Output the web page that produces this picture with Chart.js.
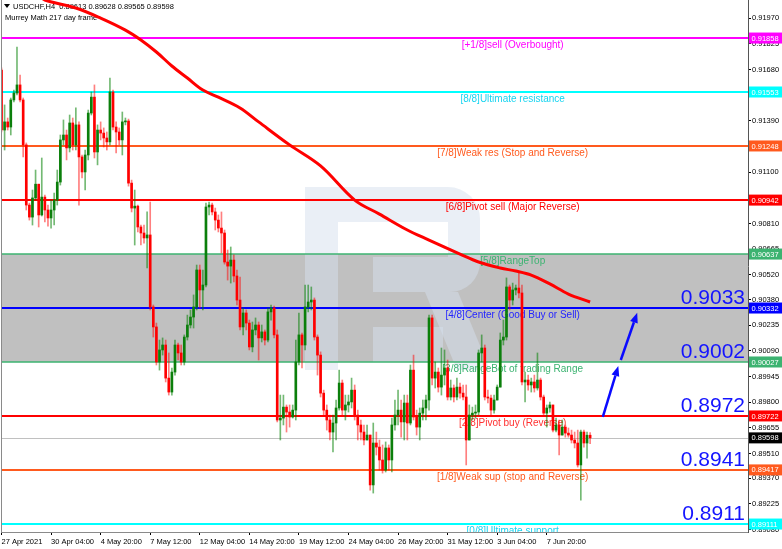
<!DOCTYPE html>
<html>
<head>
<meta charset="utf-8">
<script src="https://cdn.jsdelivr.net/npm/chart.js@4.4.0/dist/chart.umd.min.js"></script>
<style>
  html, body { margin: 0; padding: 0; background: #fff; }
  #chart { display: block; }
</style>
</head>
<body>
<canvas id="chart" width="782" height="549"></canvas>
<script>
// USDCHF H4 candles (bar index = position on the time axis)
const opens = [
  0.91677,0.91338,0.91384,0.91355,0.91508,0.91547,0.91593,0.91508,0.91254,0.90914,
  0.90846,0.90954,0.91032,0.90858,0.90959,0.90886,0.90841,0.90886,0.90942,0.91044,
  0.91282,0.91310,0.91237,0.91378,0.91254,0.91367,0.91186,0.91101,0.91197,0.91434,
  0.91524,0.91214,0.91338,0.91321,0.91293,0.91271,0.91553,0.91355,0.91327,0.91282,
  0.91384,0.91389,0.91038,0.90897,0.90908,0.90790,0.90756,0.90728,0.90745,0.90338,
  0.90225,0.90027,0.90095,0.90123,0.89936,0.89857,0.89970,0.90123,0.90078,0.90027,
  0.90168,0.90236,0.90281,0.90338,0.90547,0.90434,0.90462,0.90903,0.90914,0.90875,
  0.90829,0.90784,0.90756,0.90592,0.90569,0.90603,0.90513,0.90377,0.90225,0.90304,
  0.90247,0.90112,0.90208,0.90236,0.90163,0.90197,0.90151,0.90310,0.90332,0.90180,
  0.89699,0.89710,0.89772,0.89744,0.89716,0.89755,0.90027,0.90180,0.90123,0.90338,
  0.90366,0.90377,0.90168,0.90066,0.89851,0.89755,0.89699,0.89631,0.89682,0.89767,
  0.89908,0.89755,0.89784,0.89801,0.89868,0.89727,0.89671,0.89631,0.89586,0.89614,
  0.89332,0.89569,0.89546,0.89473,0.89416,0.89541,0.89473,0.89671,0.89727,0.89755,
  0.89688,0.89795,0.89682,0.89981,0.89716,0.89659,0.89738,0.89767,0.89812,0.90276,
  0.89936,0.89970,0.89885,0.89953,0.89993,0.89829,0.89880,0.89829,0.89885,0.89851,
  0.89829,0.89586,0.89727,0.89738,0.89744,0.90078,0.90106,0.89829,0.89823,0.89755,
  0.89812,0.89885,0.90151,0.90168,0.90451,0.90377,0.90434,0.90445,0.90417,0.89914,
  0.89925,0.89897,0.89914,0.89880,0.89925,0.89829,0.89738,0.89767,0.89784,0.89642,
  0.89671,0.89614,0.89659,0.89625,0.89614,0.89586,0.89569,0.89445,0.89631,0.89569,
  0.89613
];
const highs = [
  0.91689,0.91480,0.91406,0.91519,0.91564,0.91807,0.91649,0.91519,0.91265,0.90925,
  0.90999,0.91112,0.91032,0.91180,0.90971,0.90914,0.90942,0.90982,0.91112,0.91310,
  0.91395,0.91338,0.91423,0.91406,0.91463,0.91384,0.91197,0.91225,0.91451,0.91553,
  0.91593,0.91367,0.91384,0.91350,0.91327,0.91632,0.91564,0.91384,0.91350,0.91440,
  0.91406,0.91400,0.91055,0.90999,0.90914,0.90801,0.90801,0.90875,0.90931,0.90349,
  0.90247,0.90151,0.90163,0.90151,0.90078,0.89993,0.90151,0.90134,0.90123,0.90180,
  0.90292,0.90321,0.90406,0.90575,0.90575,0.90547,0.90925,0.90931,0.90925,0.90897,
  0.90858,0.90875,0.90773,0.90660,0.90677,0.90632,0.90547,0.90507,0.90332,0.90321,
  0.90264,0.90253,0.90276,0.90253,0.90236,0.90208,0.90332,0.90349,0.90343,0.90208,
  0.89840,0.89840,0.89784,0.89784,0.89784,0.90151,0.90304,0.90191,0.90462,0.90462,
  0.90451,0.90389,0.90180,0.90084,0.89868,0.89784,0.89727,0.89727,0.89812,0.89981,
  0.89925,0.89840,0.89840,0.89936,0.89897,0.89755,0.89699,0.89671,0.89671,0.89614,
  0.89682,0.89631,0.89586,0.89558,0.89575,0.89558,0.89710,0.89812,0.89868,0.89812,
  0.89840,0.89840,0.90010,0.90066,0.89755,0.89767,0.89812,0.89840,0.90292,0.90292,
  0.90027,0.89993,0.90106,0.90095,0.90038,0.89925,0.89897,0.89936,0.89908,0.89897,
  0.89897,0.89784,0.89772,0.89784,0.90095,0.90180,0.90123,0.89868,0.89840,0.89840,
  0.89897,0.90191,0.90264,0.90502,0.90462,0.90473,0.90462,0.90530,0.90462,0.89970,
  0.89953,0.89936,0.89953,0.90078,0.89936,0.89840,0.89784,0.89801,0.89784,0.89710,
  0.89699,0.89699,0.89671,0.89654,0.89642,0.89631,0.89642,0.89642,0.89642,0.89631,
  0.89628
];
const lows = [
  0.91327,0.91225,0.91338,0.91310,0.91497,0.91536,0.91497,0.91186,0.90886,0.90829,
  0.90801,0.90942,0.90790,0.90852,0.90818,0.90795,0.90784,0.90801,0.90914,0.91027,
  0.91254,0.91169,0.91214,0.91225,0.91225,0.90914,0.91067,0.90999,0.91169,0.91423,
  0.91180,0.91141,0.91282,0.91242,0.91225,0.91254,0.91338,0.91208,0.91254,0.91197,
  0.91367,0.91021,0.90875,0.90688,0.90762,0.90688,0.90699,0.90558,0.90321,0.90168,
  0.90010,0.89981,0.90066,0.89914,0.89840,0.89840,0.89953,0.90038,0.90010,0.90010,
  0.90151,0.90219,0.90219,0.90321,0.90332,0.90321,0.90451,0.90858,0.90858,0.90773,
  0.90762,0.90643,0.90580,0.90490,0.90473,0.90479,0.90349,0.90208,0.90180,0.90208,
  0.90095,0.90084,0.90180,0.90038,0.90140,0.90123,0.90140,0.90264,0.90163,0.89688,
  0.89586,0.89671,0.89631,0.89659,0.89710,0.89699,0.90010,0.89993,0.90095,0.90310,
  0.90321,0.90151,0.89953,0.89829,0.89727,0.89642,0.89586,0.89518,0.89586,0.89755,
  0.89727,0.89699,0.89744,0.89767,0.89699,0.89586,0.89586,0.89558,0.89586,0.89303,
  0.89286,0.89501,0.89416,0.89399,0.89405,0.89416,0.89405,0.89642,0.89671,0.89602,
  0.89586,0.89586,0.89671,0.89699,0.89614,0.89586,0.89699,0.89699,0.89755,0.89897,
  0.89880,0.89857,0.89840,0.89897,0.89812,0.89812,0.89801,0.89812,0.89823,0.89812,
  0.89445,0.89586,0.89699,0.89710,0.89727,0.90027,0.89812,0.89795,0.89727,0.89738,
  0.89812,0.89885,0.90123,0.90151,0.90321,0.90349,0.90406,0.90389,0.89897,0.89801,
  0.89868,0.89857,0.89857,0.89868,0.89812,0.89727,0.89659,0.89744,0.89631,0.89631,
  0.89501,0.89614,0.89602,0.89602,0.89569,0.89541,0.89433,0.89246,0.89546,0.89484,
  0.89565
];
const closes = [
  0.91338,0.91384,0.91355,0.91508,0.91547,0.91593,0.91508,0.91254,0.90914,0.90846,
  0.90954,0.91032,0.90858,0.90959,0.90886,0.90841,0.90886,0.90942,0.91044,0.91282,
  0.91310,0.91237,0.91378,0.91254,0.91367,0.91186,0.91101,0.91197,0.91434,0.91524,
  0.91214,0.91338,0.91321,0.91293,0.91271,0.91553,0.91355,0.91327,0.91282,0.91384,
  0.91389,0.91038,0.90897,0.90908,0.90790,0.90756,0.90728,0.90745,0.90338,0.90225,
  0.90027,0.90095,0.90123,0.89936,0.89857,0.89970,0.90123,0.90078,0.90027,0.90168,
  0.90236,0.90281,0.90338,0.90547,0.90434,0.90462,0.90903,0.90914,0.90875,0.90829,
  0.90784,0.90756,0.90592,0.90569,0.90603,0.90513,0.90377,0.90225,0.90304,0.90247,
  0.90112,0.90208,0.90236,0.90163,0.90197,0.90151,0.90310,0.90332,0.90180,0.89699,
  0.89710,0.89772,0.89744,0.89716,0.89755,0.90027,0.90180,0.90123,0.90338,0.90366,
  0.90377,0.90168,0.90066,0.89851,0.89755,0.89699,0.89631,0.89682,0.89767,0.89908,
  0.89755,0.89784,0.89801,0.89868,0.89727,0.89671,0.89631,0.89586,0.89614,0.89332,
  0.89569,0.89546,0.89473,0.89416,0.89541,0.89473,0.89671,0.89727,0.89755,0.89688,
  0.89795,0.89682,0.89981,0.89716,0.89659,0.89738,0.89767,0.89812,0.90276,0.89936,
  0.89970,0.89885,0.89953,0.89993,0.89829,0.89880,0.89829,0.89885,0.89851,0.89829,
  0.89586,0.89727,0.89738,0.89744,0.90078,0.90106,0.89829,0.89823,0.89755,0.89812,
  0.89885,0.90151,0.90168,0.90451,0.90377,0.90434,0.90445,0.90417,0.89914,0.89925,
  0.89897,0.89914,0.89880,0.89925,0.89829,0.89738,0.89767,0.89784,0.89642,0.89671,
  0.89614,0.89659,0.89625,0.89614,0.89586,0.89569,0.89445,0.89631,0.89569,0.89613,
  0.89598
];

// red moving average, sampled at some bars
const maBars   = [12, 14, 24, 32, 40, 45, 50, 55, 60, 65, 70, 77, 83, 93, 103, 114, 122, 131, 138, 148, 154, 161, 166, 171, 177, 183, 190];
const maValues = [0.92101, 0.92073, 0.92028, 0.91971, 0.91903, 0.91847, 0.91779, 0.91700, 0.91632, 0.91564, 0.91524, 0.91463, 0.91384,
                  0.91254, 0.91135, 0.90942, 0.90863, 0.90773, 0.90716, 0.90637, 0.90592, 0.90558, 0.90541, 0.90518, 0.90468, 0.90411, 0.90366];

// Murrey Math levels
const levels = [0.91858, 0.91553, 0.91248, 0.90942, 0.90637, 0.90332, 0.90027, 0.89722, 0.89417, 0.89111];
const levelNames = [
  '[+1/8]sell (Overbought)', '[8/8]Ultimate resistance', '[7/8]Weak res (Stop and Reverse)',
  '[6/8]Pivot sell (Major Reverse)', '[5/8]RangeTop', '[4/8]Center (Good Buy or Sell)',
  '[3/8]RangeBot of trading Range', '[2/8]Pivot buy (Reverse)', '[1/8]Weak sup (stop and Reverse)',
  '[0/8]Ultimate support'
];
const levelColors = ['#ff00ff', '#00ffff', '#ff5a1e', '#ff0000', '#3cb371', '#0000ff', '#3cb371', '#ff0000', '#ff5a1e', '#00ffff'];
const levelTextColors = ['#ff00ff', '#18d4f0', '#ff5a1e', '#ff0000', '#3cb371', '#2424ff', '#3cb371', '#ff3030', '#ff5a1e', '#18d4f0'];

// big blue target labels (attached to the lower levels) and arrows
const targetLabels = ['0.9033', '0.9002', '0.8972', '0.8941', '0.8911'];
const targetLevels = [0.90332, 0.90027, 0.89722, 0.89417, 0.89111];
const arrowFrom = [[194.1, 0.89717], [199.9, 0.90038]];
const arrowTo   = [[199.1, 0.90004], [205.2, 0.90305]];

const lastPrice = 0.89598;
const headerText = 'USDCHF,H4  0.89613 0.89628 0.89565 0.89598';
const subHeaderText = 'Murrey Math 217 day frame';

// axes
const yTickValues = [0.91970, 0.91825, 0.91680, 0.91535, 0.91390, 0.91245, 0.91100, 0.90955, 0.90810, 0.90665, 0.90520,
                     0.90380, 0.90235, 0.90090, 0.89945, 0.89800, 0.89655, 0.89510, 0.89370, 0.89225, 0.89080];
const xTickBars = [0, 16, 32, 48, 64, 80, 96, 112, 128, 144, 160, 176];
const xLabels = ['27 Apr 2021', '30 Apr 04:00', '4 May 20:00', '7 May 12:00', '12 May 04:00', '14 May 20:00',
                 '19 May 12:00', '24 May 04:00', '26 May 20:00', '31 May 12:00', '3 Jun 04:00', '7 Jun 20:00'];

const FONT = '"Liberation Sans", Arial, sans-serif';
Chart.defaults.font.family = FONT;

const isUp = closes.map((c, i) => c >= opens[i]);

const overlay = {
  id: 'overlay',
  beforeDatasetsDraw(chart) {
    const { ctx, chartArea: a, scales: { x, y } } = chart;
    ctx.save();
    ctx.beginPath();
    ctx.rect(a.left, a.top, a.right - a.left, a.bottom - a.top);
    ctx.clip();

    // grey range between 5/8 and 3/8
    const bandTop = y.getPixelForValue(levels[4]);
    const bandBot = y.getPixelForValue(levels[6]);
    ctx.fillStyle = '#c0c0c0';
    ctx.fillRect(a.left, bandTop, a.right - a.left, bandBot - bandTop);

    // faint "R" watermark
    ctx.fillStyle = 'rgba(214,224,238,0.5)';
    ctx.fillRect(305, 187, 33, 183);
    ctx.fillRect(338, 187, 110, 35);
    ctx.fillRect(373, 257, 75, 35);
    ctx.fillRect(373, 327, 70, 35);
    ctx.beginPath();
    ctx.moveTo(448, 187);
    ctx.arcTo(480, 187, 480, 222, 32);
    ctx.lineTo(480, 262);
    ctx.arcTo(480, 292, 448, 292, 30);
    ctx.lineTo(448, 292);
    ctx.closePath();
    ctx.fill();
    ctx.beginPath();
    ctx.moveTo(425, 292);
    ctx.lineTo(458, 292);
    ctx.lineTo(490, 370);
    ctx.lineTo(457, 370);
    ctx.closePath();
    ctx.fill();

    // header
    ctx.fillStyle = '#000';
    ctx.beginPath();
    ctx.moveTo(4, 4); ctx.lineTo(10, 4); ctx.lineTo(7, 8); ctx.closePath();
    ctx.fill();
    ctx.font = '7.5px ' + FONT;
    ctx.textAlign = 'left';
    ctx.textBaseline = 'middle';
    ctx.fillText(headerText, 13, 6.5);
    ctx.fillText(subHeaderText, 5, 17.5);

    // current price line
    const py = Math.round(y.getPixelForValue(lastPrice)) + 0.5;
    ctx.strokeStyle = '#c0c0c0';
    ctx.lineWidth = 1;
    ctx.beginPath(); ctx.moveTo(a.left, py); ctx.lineTo(a.right, py); ctx.stroke();

    // Murrey lines and their captions
    const cx = x.getPixelForValue(165);
    levels.forEach((lv, k) => {
      const ly = y.getPixelForValue(lv);
      ctx.strokeStyle = levelColors[k];
      ctx.lineWidth = (k === 4 || k === 6) ? 1.5 : 2;
      ctx.beginPath(); ctx.moveTo(a.left, ly); ctx.lineTo(a.right, ly); ctx.stroke();
      ctx.fillStyle = levelTextColors[k];
      ctx.font = '10px ' + FONT;
      ctx.textAlign = 'center';
      ctx.textBaseline = 'top';
      ctx.fillText(levelNames[k], cx, ly + 2);
    });
    ctx.restore();
  },
  afterDatasetsDraw(chart) {
    const { ctx, chartArea: a, scales: { x, y } } = chart;
    ctx.save();
    // big target labels
    ctx.fillStyle = '#1414ff';
    ctx.font = '21px ' + FONT;
    ctx.textAlign = 'right';
    ctx.textBaseline = 'middle';
    targetLabels.forEach((t, k) => {
      ctx.fillText(t, a.right - 3, y.getPixelForValue(targetLevels[k]) - 9.5);
    });
    // arrows
    ctx.strokeStyle = '#0a0aff';
    ctx.fillStyle = '#0a0aff';
    ctx.lineWidth = 2.5;
    arrowFrom.forEach((f, k) => {
      const x0 = x.getPixelForValue(f[0]), y0 = y.getPixelForValue(f[1]);
      const x1 = x.getPixelForValue(arrowTo[k][0]), y1 = y.getPixelForValue(arrowTo[k][1]);
      const ang = Math.atan2(y1 - y0, x1 - x0);
      const hl = 10, hw = 4;
      const bx = x1 - hl * Math.cos(ang), by = y1 - hl * Math.sin(ang);
      ctx.beginPath(); ctx.moveTo(x0, y0); ctx.lineTo(bx, by); ctx.stroke();
      ctx.beginPath();
      ctx.moveTo(x1, y1);
      ctx.lineTo(bx + hw * Math.sin(ang), by - hw * Math.cos(ang));
      ctx.lineTo(bx - hw * Math.sin(ang), by + hw * Math.cos(ang));
      ctx.closePath();
      ctx.fill();
    });
    ctx.restore();
  },
  afterDraw(chart) {
    const { ctx, chartArea: a, scales: { y } } = chart;
    ctx.save();
    // left frame line
    ctx.strokeStyle = '#8a8a8a';
    ctx.lineWidth = 1;
    ctx.beginPath(); ctx.moveTo(a.left + 0.5, a.top); ctx.lineTo(a.left + 0.5, a.bottom); ctx.stroke();
    // price tags on the axis
    ctx.font = '7.5px ' + FONT;
    ctx.textAlign = 'left';
    ctx.textBaseline = 'middle';
    const tag = (v, color) => {
      const ty = y.getPixelForValue(v);
      ctx.fillStyle = color;
      ctx.fillRect(a.right + 1, ty - 5.5, 33, 11);
      ctx.fillStyle = '#fff';
      ctx.fillText(v.toFixed(5), a.right + 3.5, ty + 0.5);
    };
    levels.forEach((lv, k) => tag(lv, levelColors[k]));
    tag(lastPrice, '#000');
    ctx.restore();
  }
};

new Chart(document.getElementById('chart'), {
  type: 'bar',
  data: {
    datasets: [
      {
        type: 'line',
        data: maBars.map((b, i) => ({ x: b, y: maValues[i] })),
        borderColor: '#ff0000',
        borderWidth: 3,
        pointRadius: 0,
        tension: 0.35,
        order: 0
      },
      {
        data: closes.map((c, i) => ({ x: i, y: [opens[i], c] })),
        backgroundColor: isUp.map(u => u ? '#0b7f0b' : '#ff0000'),
        barThickness: 2,
        minBarLength: 1,
        grouped: false,
        borderWidth: 0,
        order: 1
      },
      {
        data: highs.map((h, i) => ({ x: i, y: [lows[i], h] })),
        backgroundColor: isUp.map(u => u ? 'rgba(0,128,0,0.55)' : 'rgba(255,0,0,0.5)'),
        barThickness: 1,
        grouped: false,
        borderWidth: 0,
        order: 2
      }
    ]
  },
  options: {
    responsive: false,
    devicePixelRatio: 1,
    animation: false,
    events: [],
    layout: { padding: { left: 1, top: 0, right: 0, bottom: 0 } },
    plugins: { legend: { display: false }, tooltip: { enabled: false } },
    scales: {
      x: {
        type: 'linear',
        min: -0.16,
        max: 240.96,
        offset: false,
        bounds: 'data',
        grid: { drawOnChartArea: false, drawTicks: true, tickLength: 3, color: '#000', offset: false },
        border: { display: true, color: '#8a8a8a', width: 1 },
        ticks: {
          autoSkip: false, maxRotation: 0, minRotation: 0, align: 'start', padding: 2,
          color: '#000', font: { size: 7.5 },
          callback: (v, i) => xLabels[i]
        },
        afterBuildTicks: s => { s.ticks = xTickBars.map(v => ({ value: v })); },
        afterFit: s => { s.height = 17; s.paddingLeft = 0; s.paddingRight = 0; }
      },
      y: {
        position: 'right',
        min: 0.89066,
        max: 0.92073,
        bounds: 'data',
        beginAtZero: false,
        grid: { drawOnChartArea: false, drawTicks: true, tickLength: 3, color: '#000' },
        border: { display: true, color: '#555', width: 1 },
        ticks: { color: '#000', padding: 1, font: { size: 7.5 }, callback: v => v.toFixed(5) },
        afterBuildTicks: s => { s.ticks = yTickValues.map(v => ({ value: v })); },
        afterFit: s => { s.width = 34; s.paddingTop = 0; s.paddingBottom = 0; }
      }
    }
  },
  plugins: [overlay]
});
</script>
</body>
</html>
